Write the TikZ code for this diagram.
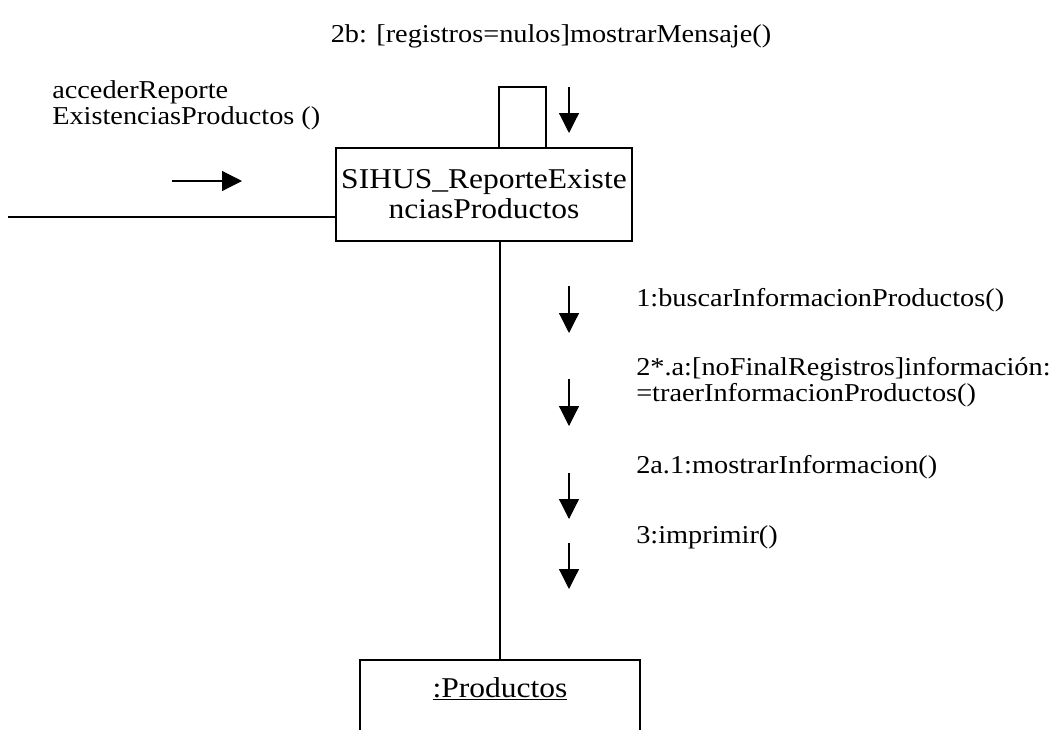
\documentclass[tikz,border=0pt]{standalone}
\usepackage{fontspec}
\usetikzlibrary{arrows.meta, positioning}
\newfontfamily\diagfont[FakeStretch=1.1]{Liberation Serif}
\newcommand{\textomsg}{\diagfont\fontsize{19.3}{19}\selectfont\lineskiplimit=-20pt}
\newcommand{\textocaja}{\diagfont\fontsize{21.5}{22.5}\selectfont\lineskiplimit=-20pt}

\begin{document}
\begin{tikzpicture}[x=0.75pt, y=-0.75pt,
    linea/.style={line width=0.9pt},
    caja/.style={draw, line width=0.9pt, inner sep=0pt, align=center},
    mensaje/.style={line width=0.9pt, -{Triangle[length=15pt, width=15pt]}},
    texto/.style={font=\textomsg, inner sep=0pt, align=left}]
    \useasboundingbox (0,0) rectangle (1056,729);
    \clip (0,0) rectangle (1056,729);

    % Objetos
    \node[caja, font=\textocaja, minimum width=222pt, minimum height=69.75pt] (reporte) at (484,194.5) {SIHUS\_ReporteExiste\\nciasProductos};
    \node[caja, font=\textocaja, minimum width=210pt, text height=27.75pt, text depth=30pt, anchor=base] (productos) at (500,697) {\underline{:Productos}};

    % Enlaces
    \coordinate (inicio) at (8,217);
    \coordinate (vida) at (500,0);
    \draw[linea] (inicio) -- (inicio -| reporte.west);
    \draw[linea] (reporte.south -| vida) -- (productos.north -| vida);

    % Enlace reflexivo
    \coordinate (bucleA) at (499,87);
    \coordinate (bucleB) at (546,87);
    \draw[linea] (bucleA |- reporte.north) -- (bucleA) -- (bucleB) -- (bucleB |- reporte.north);

    % Mensajes
    \node[texto, anchor=base] (guarda) at (551,42) {2b: [registros=nulos]mostrarMensaje()};
    \draw[mensaje] (569,87) -- (569,133);

    \node[texto, anchor=base west] (acceso) at (52,124) {accederReporte\\ExistenciasProductos ()};
    \draw[mensaje] (172,181) -- (242,181);

    \node[texto, anchor=base west] (msgUno) at (636,306) {1:buscarInformacionProductos()};
    \draw[mensaje] (569,286) -- (569,333);

    \node[texto, anchor=base west] (msgDos) at (636,401) {2*.a:[noFinalRegistros]información:\\=traerInformacionProductos()};
    \draw[mensaje] (569,379) -- (569,426);

    \node[texto, anchor=base west] (msgTres) at (636,473) {2a.1:mostrarInformacion()};
    \draw[mensaje] (569,473) -- (569,519);

    \node[texto, anchor=base west] (msgCuatro) at (636,543) {3:imprimir()};
    \draw[mensaje] (569,543) -- (569,589);
\end{tikzpicture}
\end{document}
